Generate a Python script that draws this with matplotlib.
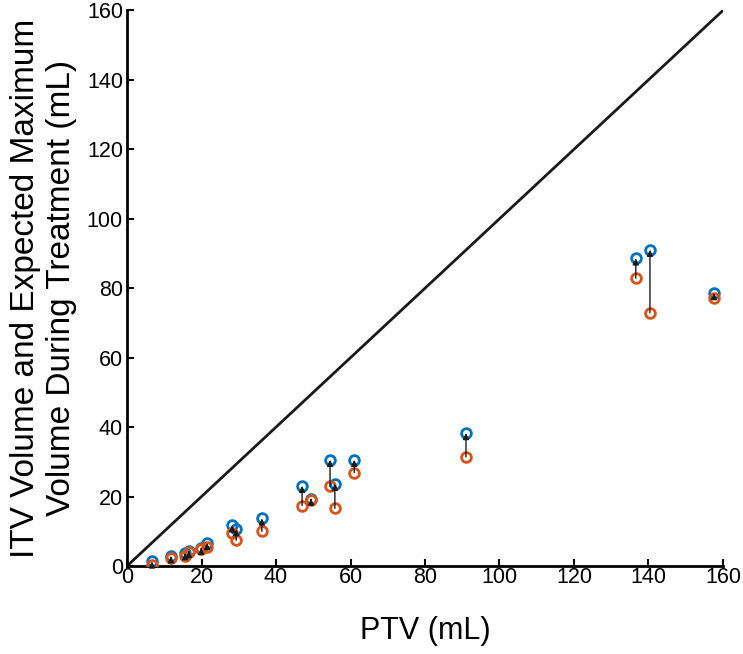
import matplotlib.pyplot as plt

plt.rcParams['font.family'] = ['Liberation Sans', 'DejaVu Sans']

# PTV volume, ITV volume (orange) and expected maximum volume (blue)
ptv = [6.7, 11.8, 15.6, 16.6, 19.9, 21.5, 28.2, 29.3, 36.2, 47.0, 49.4,
       54.5, 55.8, 61.0, 91.0, 136.6, 140.4, 157.6]
itv = [0.4, 2.4, 3.0, 4.0, 4.9, 5.5, 9.6, 7.4, 10.0, 17.4, 19.1,
       22.9, 16.6, 26.9, 31.4, 82.9, 72.9, 77.1]
max_vol = [1.3, 2.8, 3.7, 4.3, 5.2, 6.6, 11.7, 10.6, 13.7, 23.1, 19.4,
           30.6, 23.7, 30.6, 38.3, 88.6, 91.1, 78.6]

fig = plt.figure(figsize=(7.43, 6.54), dpi=100)
ax = fig.add_axes([0.171, 0.1346, 0.802, 0.8494])

# identity line
ax.plot([0, 160], [0, 160], color='#1a1a1a', lw=2)

ax.plot(ptv, max_vol, 'o', mfc='none', mec='#0072BD', mew=2, ms=7, zorder=3)
ax.plot(ptv, itv, 'o', mfc='none', mec='#D95319', mew=2, ms=7, zorder=3)

# arrows from ITV to expected maximum
for x, a, b in zip(ptv, itv, max_vol):
    ax.annotate('', xy=(x, b), xytext=(x, a),
                arrowprops=dict(arrowstyle='-|>', color='#1a1a1a', lw=1,
                                mutation_scale=9, shrinkA=0, shrinkB=0),
                zorder=4)

ax.set_xlim(0, 160)
ax.set_ylim(0, 160)
ax.set_xticks(range(0, 161, 20))
ax.set_yticks(range(0, 161, 20))
ax.spines['top'].set_visible(False)
ax.spines['right'].set_visible(False)
ax.spines['left'].set_linewidth(2)
ax.spines['bottom'].set_linewidth(2)
ax.tick_params(direction='in', length=5, width=1.5, labelsize=15.5, pad=3)
ax.tick_params(axis='x', pad=1)

ax.set_xlabel('PTV (mL)', fontsize=22, labelpad=20)
ax.set_ylabel('ITV Volume and Expected Maximum\nVolume During Treatment (mL)',
              fontsize=24, labelpad=7)

fig.savefig('out.png', dpi=100)
